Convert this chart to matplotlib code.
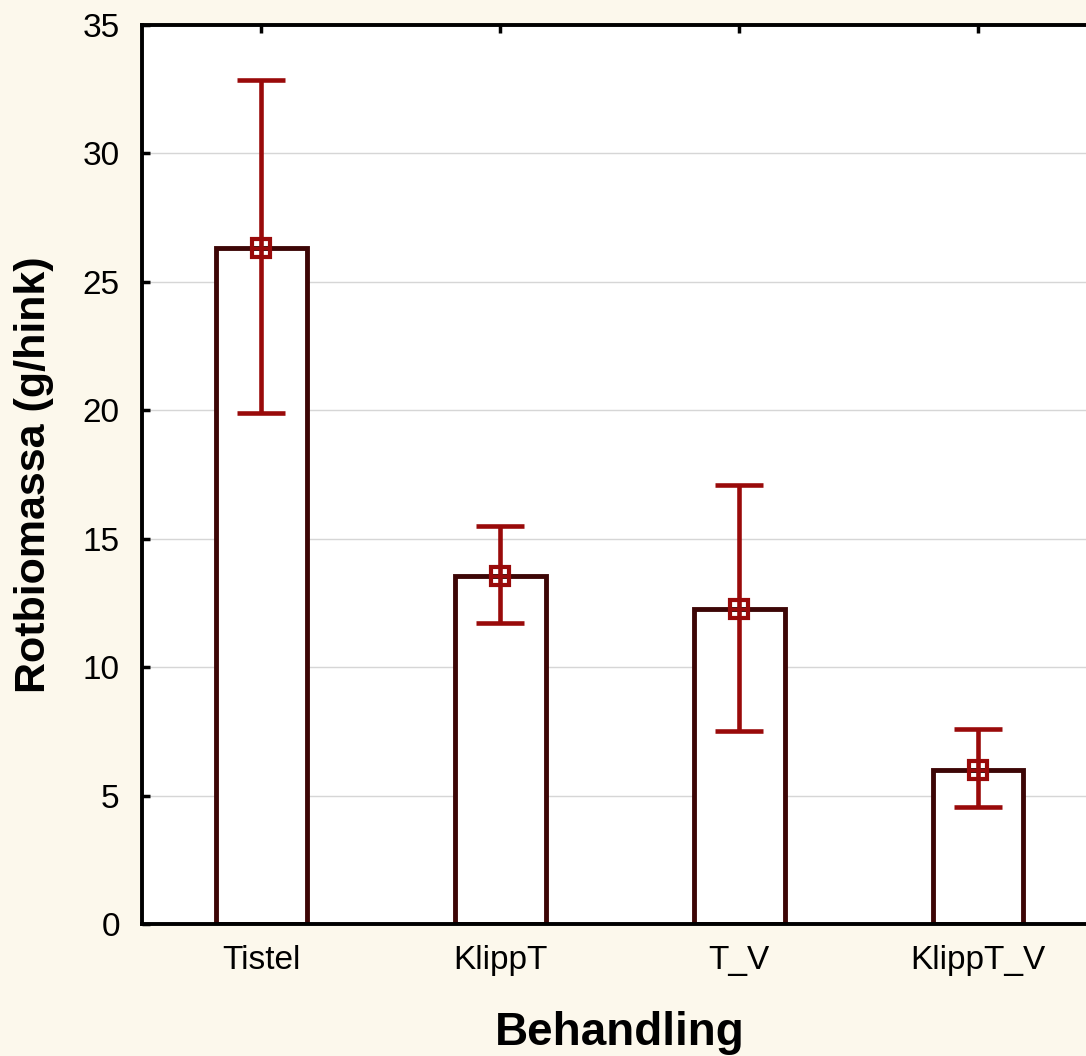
import matplotlib
matplotlib.use("Agg")
import matplotlib.pyplot as plt
import numpy as np

categories = ["Tistel", "KlippT", "T_V", "KlippT_V"]
means = [26.3, 13.55, 12.26, 5.99]
upper = [32.85, 15.49, 17.09, 7.59]
lower = [19.89, 11.72, 7.51, 4.55]
yticks = [0, 5, 10, 15, 20, 25, 30, 35]

plt.rcParams['font.family'] = ['Liberation Sans', 'DejaVu Sans']

fig = plt.figure(figsize=(10.86, 10.56), dpi=100, facecolor='#FCF8EC')
ax = fig.add_axes([142/1086, 1-924/1056, (1097.5-142)/1086, (924-25)/1056])
ax.set_facecolor('white')

x = np.arange(1, len(categories)+1)
m = np.array(means)
err = np.vstack([m - np.array(lower), np.array(upper) - m])

barcol = '#3d0606'
errcol = '#990a0a'

ax.set_axisbelow(True)
ax.yaxis.grid(True, color='#d6d6d6', linewidth=1.0)
ax.bar(x, m, width=0.38, facecolor='white', edgecolor=barcol, linewidth=3.5, zorder=2)
ax.errorbar(x, m, yerr=err, fmt='none', ecolor=errcol, elinewidth=3.3, capsize=17.5,
            capthick=3.3, zorder=3)
ax.plot(x, m, 's', ms=12.5, mfc='none', mec=errcol, mew=3, zorder=4)
ax.plot(x, m, '+', ms=12.5, color=errcol, mew=2.2, zorder=4)

ax.set_xlim(0.5, 4.5)
ax.set_ylim(0, 35)
ax.set_yticks(yticks)
ax.set_yticklabels([str(v) for v in yticks])
ax.set_xticks(x)
ax.set_xticklabels(categories)

for s in ['left', 'top', 'bottom', 'right']:
    ax.spines[s].set_linewidth(2.8)
    ax.spines[s].set_color('black')

ax.tick_params(axis='y', direction='in', length=6, width=2.5, labelsize=24, pad=16,
               left=True, right=False)
ax.tick_params(axis='x', direction='in', length=6, width=2.5, labelsize=24, pad=15,
               top=True, bottom=True)

ax.set_ylabel("Rotbiomassa (g/hink)", fontsize=31, fontweight='bold', va='center')
ax.yaxis.set_label_coords(-0.113, 0.5)
ax.set_xlabel("Behandling", fontsize=33, fontweight='bold', va='top')
ax.xaxis.set_label_coords(0.5, -0.097)

fig.savefig("out.png", dpi=100, facecolor=fig.get_facecolor())
